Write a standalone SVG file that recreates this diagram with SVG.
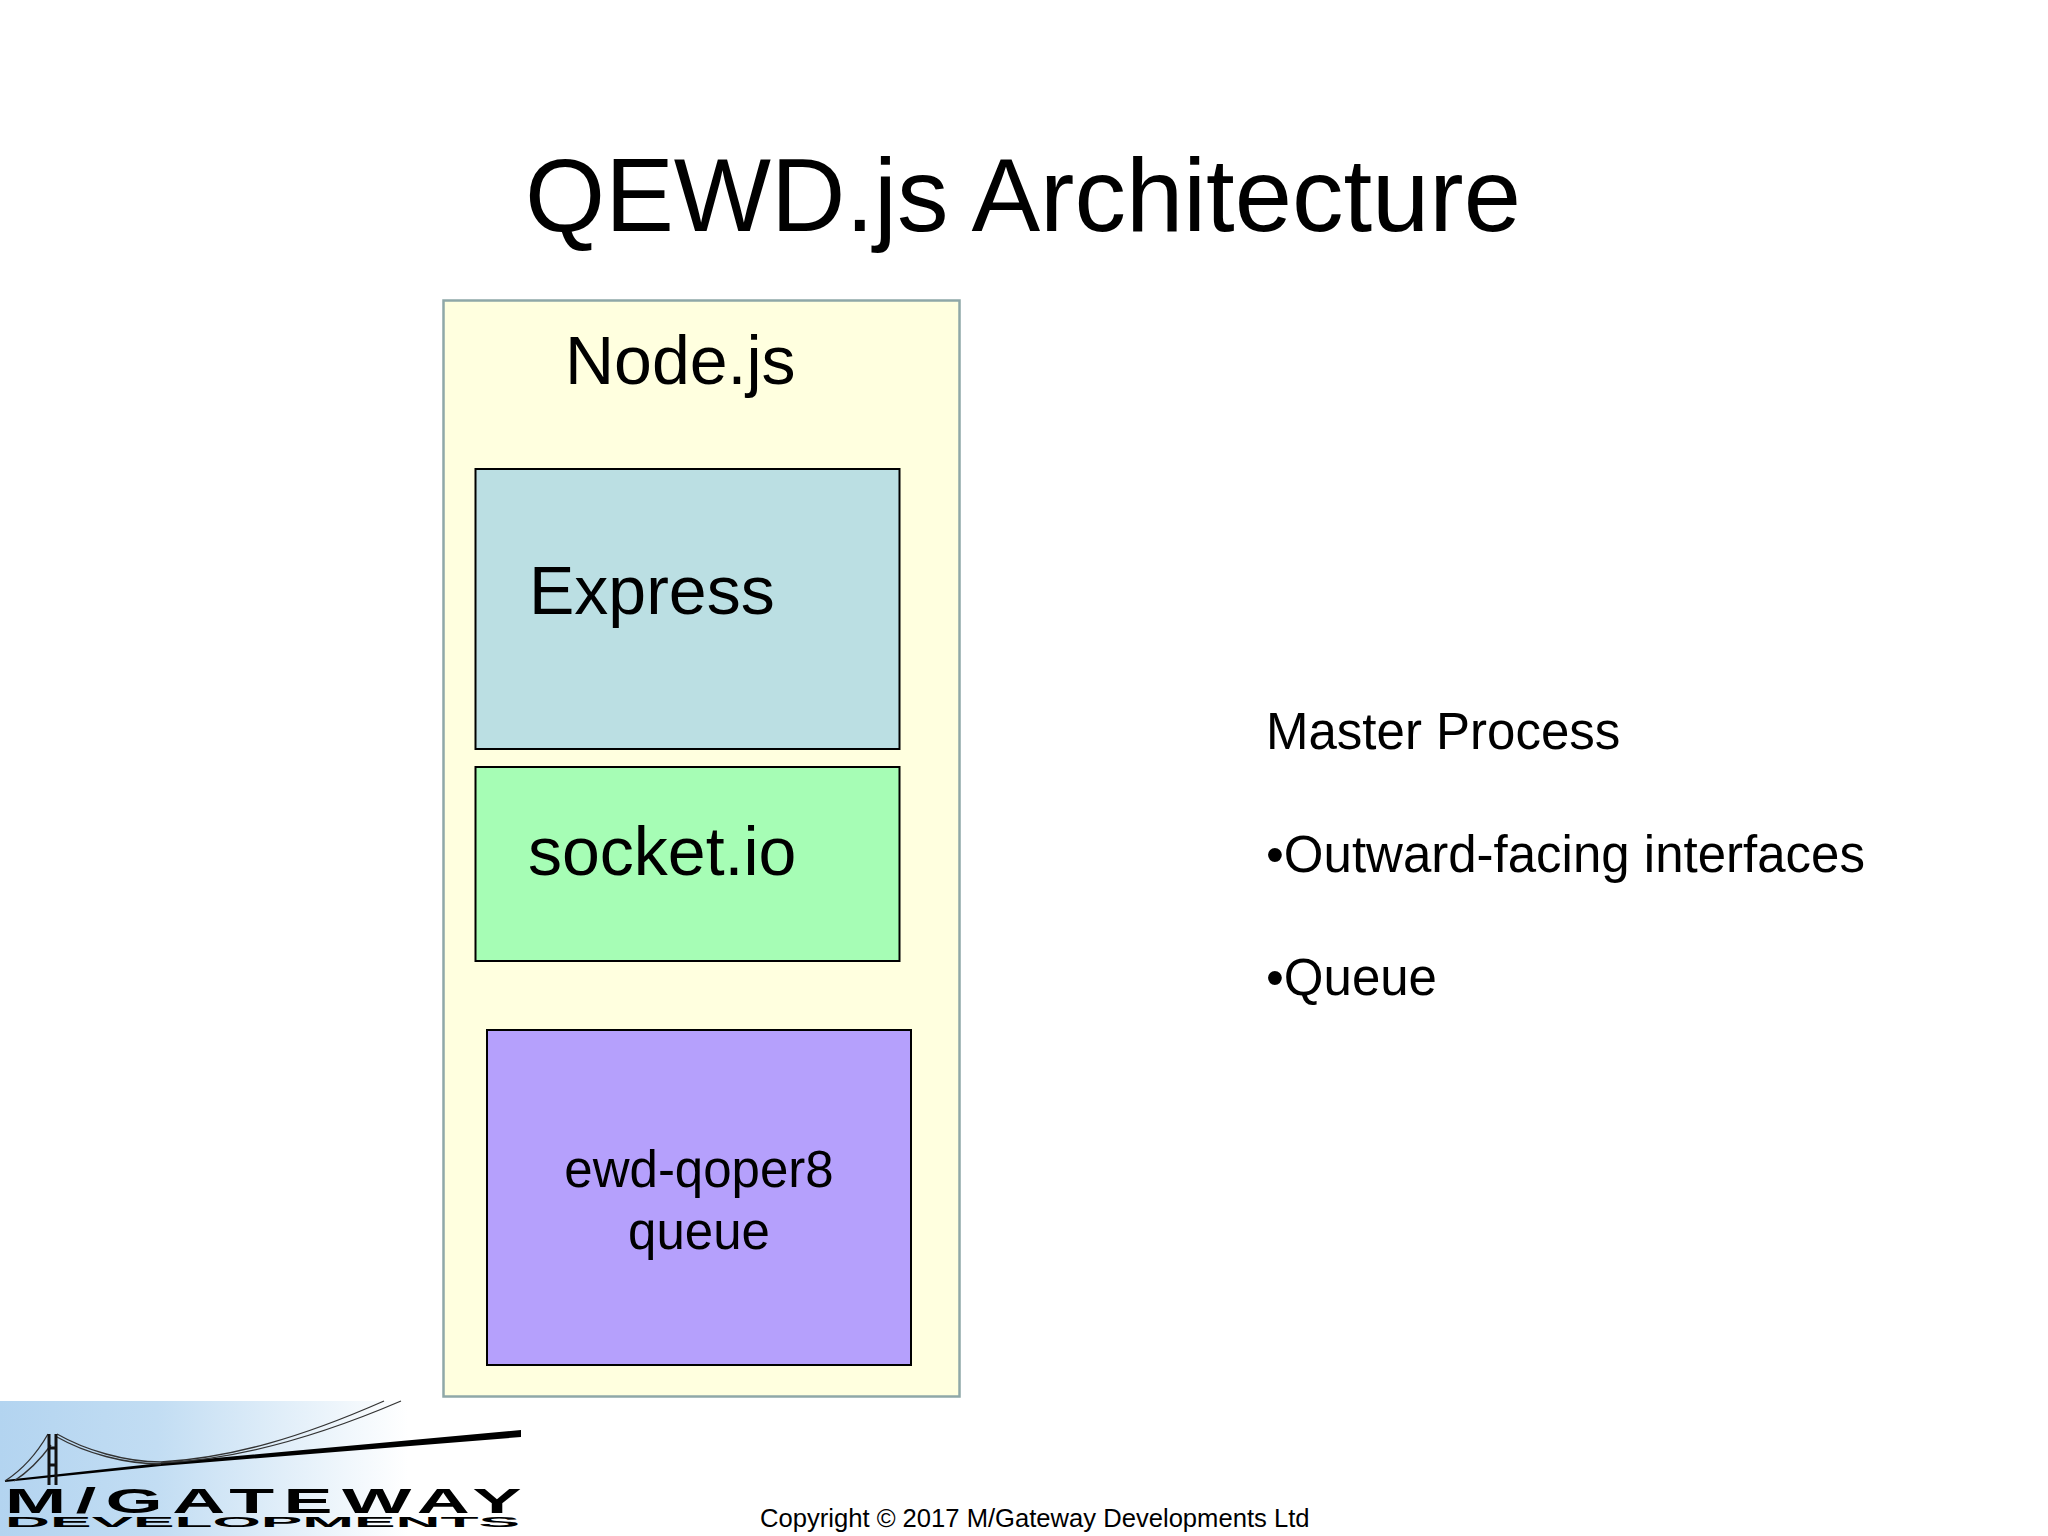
<svg xmlns="http://www.w3.org/2000/svg" width="2048" height="1536" viewBox="0 0 2048 1536">
<style>
text{font-family:"Liberation Sans",Arial,sans-serif;fill:#000}
.box{stroke:#000;stroke-width:2}
.ln{fill:none;stroke:#333;stroke-width:1.3}
.tw{stroke:#111;fill:none;stroke-width:3}
</style>
<defs><linearGradient id="sky" x1="0" y1="0" x2="1" y2="0"><stop offset="0" stop-color="#b3d4f0"/><stop offset="0.3" stop-color="#c2ddf3"/><stop offset="0.78" stop-color="#ffffff"/></linearGradient></defs>
<rect width="2048" height="1536" fill="#fff"/>
<text id="title" x="1023" y="231" font-size="103" text-anchor="middle">QEWD.js Architecture</text>
<g id="nodejs"><rect x="443.500" y="300.500" width="516" height="1096" fill="#ffffdf" stroke="#8fa8a8" stroke-width="2.500"/><text x="565" y="384" font-size="68">Node.js</text></g>
<g id="express"><rect class="box" x="475.500" y="469" width="424" height="280" fill="#bbdfe3"/><text x="529" y="614" font-size="68">Express</text></g>
<g id="socketio"><rect class="box" x="475.500" y="767" width="424" height="194" fill="#a6fdb5"/><text x="528" y="875" font-size="68">socket.io</text></g>
<g id="queue"><rect class="box" x="487" y="1030" width="424" height="335" fill="#b5a0fc"/><text x="699" y="1187" font-size="51" text-anchor="middle">ewd-qoper8</text><text x="699" y="1249" font-size="51" text-anchor="middle">queue</text></g>
<g id="notes" font-size="51"><text x="1266" y="749">Master Process</text><text x="1266" y="872">•Outward-facing interfaces</text><text x="1266" y="995">•Queue</text></g>
<text id="copyright" x="760" y="1527" font-size="25.600">Copyright © 2017 M/Gateway Developments Ltd</text>
<g id="logo">
<rect x="0" y="1401" width="523" height="135" fill="url(#sky)"/>
<path d="M5 1480 L161 1463 L521 1430 V1437 L161 1466 L5 1482Z" fill="#000"/>
<path class="ln" d="M401 1401 C310 1440 230 1460 161 1463"/>
<path class="ln" d="M384 1401 C300 1438 230 1458 161 1462 C125 1462 85 1450 57 1434"/>
<path class="ln" d="M161 1464 C125 1464 85 1453 57 1437"/>
<path class="ln" d="M48 1434 C36 1455 22 1470 5 1481 M51 1445 C40 1460 28 1472 14 1481"/>
<path class="tw" d="M49 1434 V1485 M56 1434 V1485 M49 1448 H56 M49 1465 H56"/>
<text transform="translate(5 1513) scale(2.1 1)" font-size="35" font-weight="bold" letter-spacing="4.500">M/GATEWAY</text>
<text x="5" y="1527" font-size="14" font-weight="bold" textLength="515" lengthAdjust="spacingAndGlyphs">DEVELOPMENTS</text>
</g>
</svg>
